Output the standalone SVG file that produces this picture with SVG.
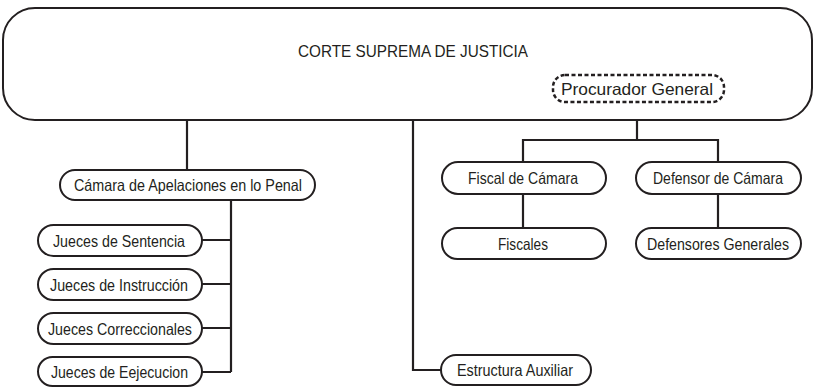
<svg xmlns="http://www.w3.org/2000/svg" width="815" height="387" viewBox="0 0 815 387">
<style>
.box{fill:#fff;stroke:#231f20;stroke-width:2}
.dash{fill:#fff;stroke:#231f20;stroke-width:2.5;stroke-dasharray:4 2.5}
.ln{fill:none;stroke:#231f20;stroke-width:2.2}
text{font-family:"Liberation Sans",Arial,sans-serif;font-size:16.5px;fill:#231f20;text-anchor:middle;dominant-baseline:central}
</style>
<rect width="815" height="387" fill="#fff"/>
<g id="connectors">
<path class="ln" d="M187 120V171"/>
<path class="ln" d="M413 120V370H442"/>
<path class="ln" d="M637 102V140M523 162V140H718V162"/>
<path class="ln" d="M523 194V228M718 194V228"/>
<path class="ln" d="M231 200V372M202 240H231M202 284H231M202 328H231M202 372H231"/>
</g>
<g id="corte">
<rect class="box" x="3" y="8" width="809" height="112" rx="32"/>
<text x="413" y="51" font-size="17" textLength="230" lengthAdjust="spacingAndGlyphs">CORTE SUPREMA DE JUSTICIA</text>
</g>
<g id="procurador">
<rect class="dash" x="553" y="75" width="171" height="27" rx="12"/>
<text x="637" y="88.5" font-size="17.5" textLength="152" lengthAdjust="spacingAndGlyphs">Procurador General</text>
</g>
<g id="camara">
<rect class="box" x="60" y="170" width="255" height="30" rx="15"/>
<text x="188" y="185" textLength="228" lengthAdjust="spacingAndGlyphs">Cámara de Apelaciones en lo Penal</text>
</g>
<g id="sentencia">
<rect class="box" x="38" y="225" width="164" height="31" rx="15.5"/>
<text x="119" y="240.5" textLength="132" lengthAdjust="spacingAndGlyphs">Jueces de Sentencia</text>
</g>
<g id="instruccion">
<rect class="box" x="38" y="269" width="164" height="31" rx="15.5"/>
<text x="119" y="284.5" textLength="138" lengthAdjust="spacingAndGlyphs">Jueces de Instrucción</text>
</g>
<g id="correccionales">
<rect class="box" x="38" y="313" width="164" height="31" rx="15.5"/>
<text x="120" y="328.5" textLength="144" lengthAdjust="spacingAndGlyphs">Jueces Correccionales</text>
</g>
<g id="ejecucion">
<rect class="box" x="38" y="357" width="164" height="29" rx="14.5"/>
<text x="119.5" y="371.5" textLength="137" lengthAdjust="spacingAndGlyphs">Jueces de Eejecucion</text>
</g>
<g id="fiscal-camara">
<rect class="box" x="442" y="162" width="164" height="32" rx="16"/>
<text x="523" y="178" textLength="110" lengthAdjust="spacingAndGlyphs">Fiscal de Cámara</text>
</g>
<g id="defensor-camara">
<rect class="box" x="636" y="162" width="165" height="32" rx="16"/>
<text x="718" y="178" textLength="130" lengthAdjust="spacingAndGlyphs">Defensor de Cámara</text>
</g>
<g id="fiscales">
<rect class="box" x="442" y="228" width="164" height="31" rx="15.5"/>
<text x="523" y="243.5" textLength="50" lengthAdjust="spacingAndGlyphs">Fiscales</text>
</g>
<g id="defensores">
<rect class="box" x="636" y="228" width="165" height="31" rx="15.5"/>
<text x="718" y="243.5" textLength="142" lengthAdjust="spacingAndGlyphs">Defensores Generales</text>
</g>
<g id="estructura">
<rect class="box" x="441" y="355" width="150" height="30" rx="15"/>
<text x="515" y="370" textLength="116" lengthAdjust="spacingAndGlyphs">Estructura Auxiliar</text>
</g>
</svg>
